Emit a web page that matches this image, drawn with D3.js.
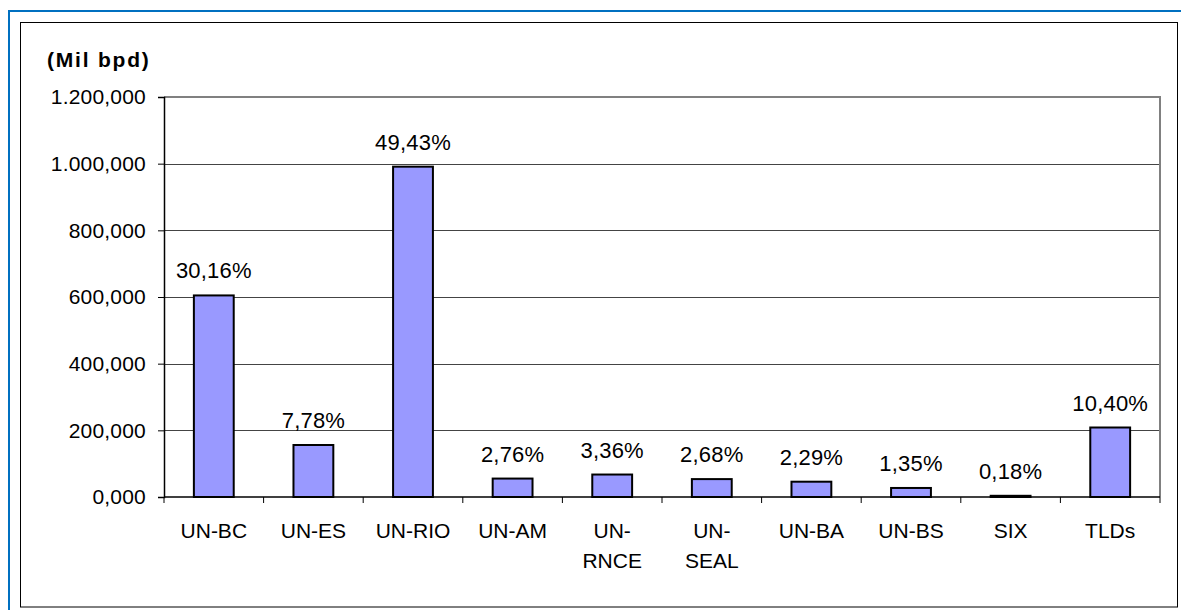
<!DOCTYPE html>
<html>
<head>
<meta charset="utf-8">
<script src="https://cdn.jsdelivr.net/npm/d3@7"></script>
<style>
  html, body { margin: 0; padding: 0; background: #fff; }
  svg { display: block; }
  text { font-family: "Liberation Sans", Arial, sans-serif; fill: #000; }
</style>
</head>
<body>
<svg id="chart" width="1181" height="610"></svg>
<script>
// ---- data ----
const categories = ["UN-BC", "UN-ES", "UN-RIO", "UN-AM", "UN-RNCE", "UN-SEAL", "UN-BA", "UN-BS", "SIX", "TLDs"];
const values = [604.7, 156.0, 991.0, 55.3, 67.4, 53.7, 45.9, 27.1, 3.6, 208.5];
const shareLabels = ["30,16%", "7,78%", "49,43%", "2,76%", "3,36%", "2,68%", "2,29%", "1,35%", "0,18%", "10,40%"];
const yTicks = [0, 200, 400, 600, 800, 1000, 1200];
const unitLabel = "(Mil bpd)";

// ---- layout ----
const W = 1181, H = 610;
const plot = { left: 164, top: 97, right: 1160, bottom: 497 };

const svg = d3.select("#chart");

// blue outer frame (top + left)
svg.append("line").attr("x1", 9).attr("x2", W).attr("y1", 11).attr("y2", 11)
  .attr("stroke", "#0070C0").attr("stroke-width", 2);
svg.append("line").attr("x1", 9).attr("x2", 9).attr("y1", 10).attr("y2", H)
  .attr("stroke", "#0070C0").attr("stroke-width", 2);

// chart area border
svg.append("rect").attr("x", 20.5).attr("y", 22.5).attr("width", 1157).attr("height", 584.5)
  .attr("fill", "#fff").attr("stroke", "#000").attr("stroke-width", 1);

const x = d3.scaleBand().domain(categories).range([plot.left, plot.right]).paddingInner(0.6).paddingOuter(0.3);
const xb = d3.scaleBand().domain(categories).range([plot.left, plot.right]);
const y = d3.scaleLinear().domain([0, 1200]).range([plot.bottom, plot.top]);

const loc = d3.formatLocale({ decimal: ",", thousands: ".", grouping: [3], currency: ["", ""] });
const fmt = loc.format(",.3f");

// gridlines
svg.append("g").selectAll("line").data(yTicks.filter(d => d > 0 && d < 1200)).join("line")
  .attr("x1", plot.left).attr("x2", plot.right)
  .attr("y1", d => Math.round(y(d)) + 0.5).attr("y2", d => Math.round(y(d)) + 0.5)
  .attr("stroke", "#444").attr("stroke-width", 1);

// plot area top/right border (gray)
svg.append("path")
  .attr("d", `M${plot.left},${plot.top} H${plot.right} V${plot.bottom}`)
  .attr("fill", "none").attr("stroke", "#808080").attr("stroke-width", 2);

// bars
svg.append("g").selectAll("rect").data(values).join("rect")
  .attr("x", (d, i) => x(categories[i]))
  .attr("width", x.bandwidth())
  .attr("y", d => y(d))
  .attr("height", d => y(0) - y(d))
  .attr("fill", "#9999FF").attr("stroke", "#000").attr("stroke-width", 2);

// y axis
const yAxis = d3.axisLeft(y).tickValues(yTicks).tickFormat(fmt).tickSize(6).tickPadding(12);
const gy = svg.append("g").attr("transform", `translate(${plot.left},0)`).call(yAxis);
gy.select(".domain").attr("stroke", "#000").attr("stroke-width", 1.5);
gy.selectAll(".tick line").attr("stroke", "#000");
gy.selectAll(".tick text").attr("font-size", 21).attr("font-family", "Liberation Sans, Arial, sans-serif")
  .attr("letter-spacing", "0.2px");

// x axis (ticks at category boundaries)
svg.append("line").attr("x1", plot.left).attr("x2", plot.right)
  .attr("y1", plot.bottom).attr("y2", plot.bottom).attr("stroke", "#000").attr("stroke-width", 1.5);
svg.append("g").selectAll("line").data(d3.range(categories.length + 1)).join("line")
  .attr("x1", i => i < categories.length ? xb(categories[i]) : plot.right)
  .attr("x2", i => i < categories.length ? xb(categories[i]) : plot.right)
  .attr("y1", plot.bottom).attr("y2", plot.bottom + 6)
  .attr("stroke", "#000").attr("stroke-width", 1);

// category labels (wrap long names after hyphen)
const catG = svg.append("g").selectAll("text").data(categories).join("text")
  .attr("x", d => xb(d) + xb.bandwidth() / 2)
  .attr("y", plot.bottom + 41)
  .attr("text-anchor", "middle")
  .attr("font-size", 21);
catG.each(function (d) {
  const t = d3.select(this);
  const cx = xb(d) + xb.bandwidth() / 2;
  const lines = d.length > 6 ? [d.slice(0, d.indexOf("-") + 1), d.slice(d.indexOf("-") + 1)] : [d];
  lines.forEach((ln, k) => t.append("tspan").attr("x", cx).attr("dy", k === 0 ? 0 : 30).text(ln));
});

// data labels
svg.append("g").selectAll("text").data(values).join("text")
  .attr("x", (d, i) => x(categories[i]) + x.bandwidth() / 2)
  .attr("y", d => y(d) - 17)
  .attr("text-anchor", "middle")
  .attr("font-size", 22)
  .attr("letter-spacing", "0.2px")
  .text((d, i) => shareLabels[i]);

// unit label
svg.append("text").attr("x", 47).attr("y", 67)
  .attr("font-size", 21).attr("font-weight", "bold").attr("letter-spacing", "1.8px")
  .text(unitLabel);
</script>
</body>
</html>
